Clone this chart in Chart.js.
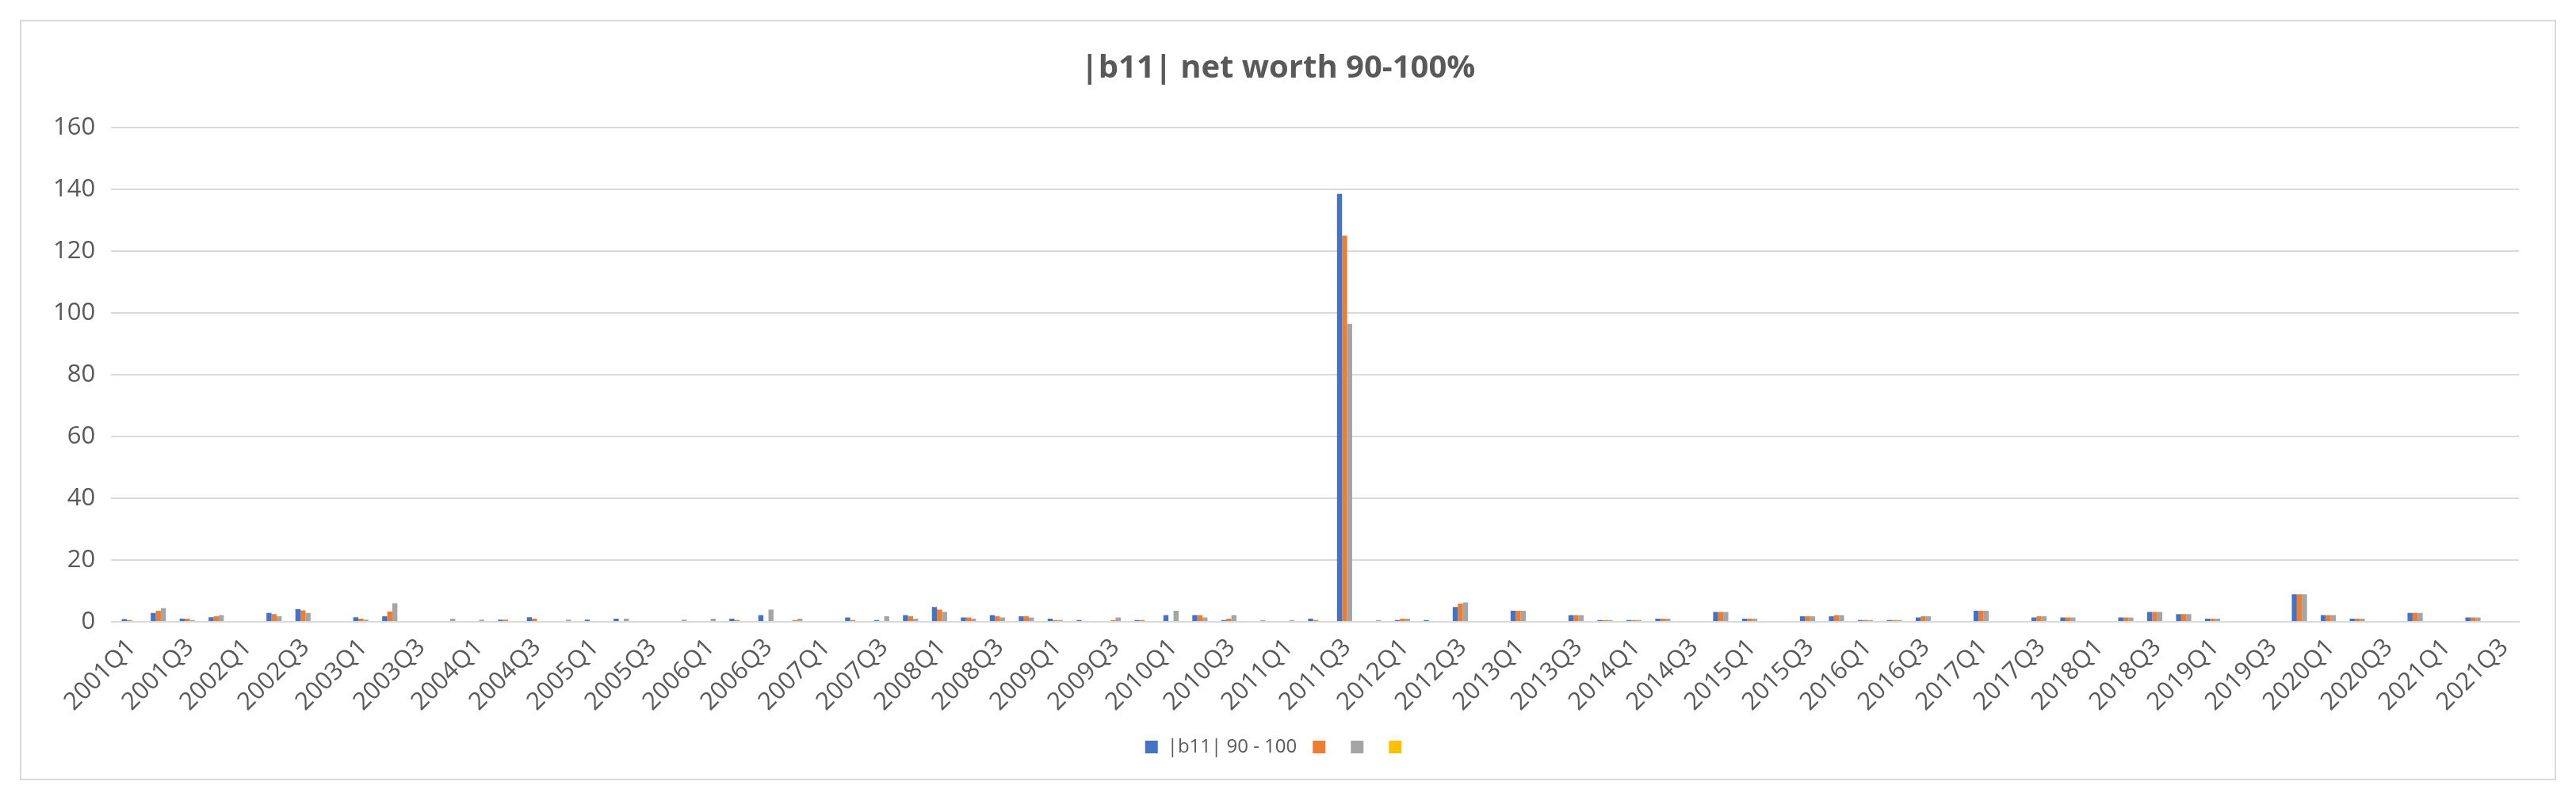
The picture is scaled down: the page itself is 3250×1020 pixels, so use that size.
<!DOCTYPE html>
<html><head><meta charset="utf-8">
<script src="https://cdn.jsdelivr.net/npm/chart.js@4"></script>
<style>
html,body{margin:0;padding:0;background:#fff;}
#box{position:absolute;left:25px;top:25px;width:3196px;height:956px;border:2px solid #d9d9d9;}
</style></head><body>
<div id="box"><canvas id="c"></canvas></div>
<script>
const years=[];for(let y=2001;y<=2021;y++)years.push(y);
const categories=[];years.forEach(y=>{for(let q=1;q<=4;q++){if(y===2021&&q===4)break;categories.push(y+'Q'+q);}});
const seriesBlue=[0.9,2.9,1.0,1.5,null,2.9,4.1,null,1.5,1.8,null,null,null,0.7,1.5,null,0.7,1.0,null,null,null,
1.0,2.2,null,null,1.4,0.6,2.2,4.8,1.4,2.2,1.8,1.0,0.6,null,0.6,2.2,2.2,0.6,null,null,1.0,
138.5,null,0.6,0.6,4.8,null,3.6,null,2.2,0.6,0.6,1.0,null,3.2,1.0,null,1.8,1.8,0.6,0.6,1.4,
null,3.6,null,1.4,1.4,null,1.4,3.2,2.5,1.0,null,null,8.9,2.2,1.0,null,2.9,null,1.4,null];
const seriesOrange=[0.6,3.6,1.0,1.8,null,2.5,3.7,null,1.0,3.3,null,null,null,0.7,1.0,null,null,null,null,null,null,
0.6,null,0.6,null,0.6,null,1.8,4.0,1.4,1.8,1.8,0.6,null,0.6,0.6,null,2.2,1.0,null,null,0.6,
125,null,1.0,null,5.9,null,3.6,null,2.2,0.6,0.6,1.0,null,3.2,1.0,null,1.8,2.2,0.6,0.6,1.8,
null,3.6,null,1.8,1.4,null,1.4,3.2,2.5,1.0,null,null,8.9,2.2,1.0,null,2.9,null,1.4,null];
const seriesGray=[null,4.4,0.6,2.2,null,1.8,2.9,null,0.7,6.0,null,1.0,0.7,null,null,0.7,null,1.0,null,0.7,1.0,
null,4.0,1.0,null,null,1.8,1.0,3.2,1.0,1.4,1.4,0.6,null,1.4,null,3.6,1.4,2.2,0.6,0.6,null,
96.5,0.6,1.0,null,6.3,null,3.6,null,2.2,0.6,0.6,1.0,null,3.2,1.0,null,1.8,2.2,0.6,0.6,1.8,
null,3.6,null,1.8,1.4,null,1.4,3.2,2.5,1.0,null,null,8.9,2.2,1.0,null,2.9,null,1.4,null];
const seriesYellow=categories.map(()=>null);
const seriesNames=['|b11| 90 - 100','','',''];
const yTicks=[0,20,40,60,80,100,120,140,160];
const font='"Open Sans", "Liberation Sans", sans-serif';
new Chart(document.getElementById('c'),{
type:'bar',
data:{labels:categories,datasets:[
{label:seriesNames[0],data:seriesBlue,backgroundColor:'#4472c4'},
{label:seriesNames[1],data:seriesOrange,backgroundColor:'#ed7d31'},
{label:seriesNames[2],data:seriesGray,backgroundColor:'#a5a5a5'},
{label:seriesNames[3],data:seriesYellow,backgroundColor:'#ffc000'}]},
options:{responsive:true,maintainAspectRatio:false,animation:false,
datasets:{bar:{barPercentage:1,categoryPercentage:0.7}},
layout:{padding:{left:20,right:45,top:10,bottom:18}},
plugins:{
title:{display:true,text:'|b11| net worth 90-100%',color:'#595959',font:{family:font,size:40,weight:'bold'},padding:{top:26,bottom:50}},
legend:{position:'bottom',labels:{color:'#595959',font:{family:font,size:24},boxWidth:16,boxHeight:16,padding:20}},
tooltip:{enabled:false}},
scales:{
x:{grid:{display:false},border:{color:'#d9d9d9',width:2},
ticks:{color:'#595959',font:{family:font,size:31},autoSkip:false,maxRotation:45,minRotation:45,padding:6,
callback:function(v,i){return i%2===0?this.getLabelForValue(v):'';}}},
y:{min:0,max:160,afterBuildTicks:a=>{a.ticks=yTicks.map(v=>({value:v}));},
grid:{color:'#d9d9d9',lineWidth:2},border:{display:false},
ticks:{color:'#595959',font:{family:font,size:31},padding:20}}}}
});
</script></body></html>
